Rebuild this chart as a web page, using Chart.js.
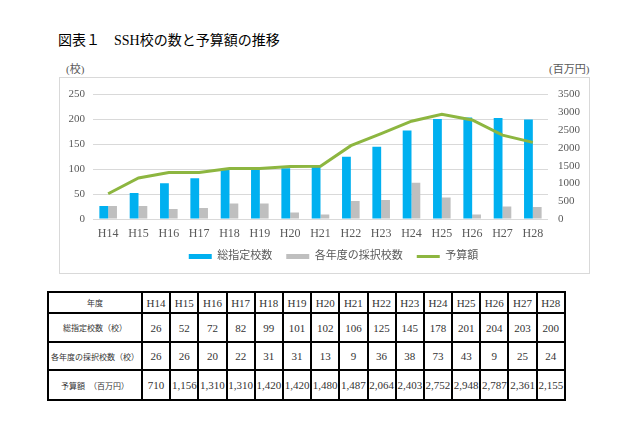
<!DOCTYPE html>
<html><head><meta charset="utf-8">
<script src="https://cdn.jsdelivr.net/npm/chart.js"></script>
<style>
body{margin:0;background:#fff;width:640px;height:426px;position:relative;overflow:hidden;font-family:"Liberation Serif","Noto Sans CJK JP",serif;}
#title{position:absolute;left:58px;top:31px;font-size:14px;color:#000;white-space:nowrap;line-height:20px;}
#frame{position:absolute;left:59px;top:77px;width:531px;height:197px;border:1px solid #D9D9D9;box-sizing:border-box;}
#wrap{position:absolute;left:0;top:0;width:529px;height:199px;}
.unit{position:absolute;top:62px;font-size:11px;color:#595959;line-height:14px;white-space:nowrap;}
table{position:absolute;left:47px;top:291px;width:519px;height:108px;border-collapse:collapse;table-layout:fixed;}
td{border:2px solid #000;text-align:center;font-size:11px;color:#333;padding:0;white-space:nowrap;overflow:hidden;}
td.h{font-size:8px;}
</style></head>
<body>
<div id="title">図表１　SSH校の数と予算額の推移</div>
<div class="unit" style="left:66px;">(校)</div>
<div class="unit" style="left:549px;">(百万円)</div>
<div id="frame"><div id="wrap"><canvas id="c" width="529" height="199"></canvas></div></div>
<table id="tbl"></table>
<script>
const years = ["H14","H15","H16","H17","H18","H19","H20","H21","H22","H23","H24","H25","H26","H27","H28"];
const totalSchools = [26,52,72,82,99,101,102,106,125,145,178,201,204,203,200];
const newSchools = [26,26,20,22,31,31,13,9,36,38,73,43,9,25,24];
const budget = [710,1156,1310,1310,1420,1420,1480,1487,2064,2403,2752,2948,2787,2361,2155];
const seriesNames = ["総指定校数","各年度の採択校数","予算額"];
const rowHeads = ["年度","総指定校数（校）","各年度の採択校数（校）","予算額　（百万円）"];

// table
const tbl = document.getElementById('tbl');
const cg = document.createElement('colgroup');
const c0 = document.createElement('col'); c0.style.width = '94px'; cg.appendChild(c0);
years.forEach(()=>{const c=document.createElement('col'); cg.appendChild(c);});
tbl.appendChild(cg);
const rows = [years, totalSchools.map(String), newSchools.map(String), budget.map(v=>v.toLocaleString('en-US'))];
const rh = [21,29,28,30];
rows.forEach((r,i)=>{
  const tr = document.createElement('tr'); tr.style.height = rh[i]+'px';
  const th = document.createElement('td'); th.className='h'; th.textContent = rowHeads[i]; tr.appendChild(th);
  r.forEach(v=>{const td=document.createElement('td'); td.textContent=v; tr.appendChild(td);});
  tbl.appendChild(tr);
});

const FF = '"Liberation Serif","Noto Sans CJK JP",serif';
const TC = '#595959';
const legendShift = {
  id:'legendShift',
  afterLayout(chart){ const l = chart.legend; if(l){ l.left += 9; l.right += 9; l.top -= 5; l.bottom -= 5; } }
};
new Chart(document.getElementById('c'), {
  data: {
    labels: years,
    datasets: [
      {type:'bar', label:seriesNames[0], data: totalSchools, backgroundColor:'#00B0F0', yAxisID:'y', order:1, pointStyle:'rect', barPercentage:1, categoryPercentage:0.58, borderWidth:0},
      {type:'bar', label:seriesNames[1], data: newSchools, backgroundColor:'#BFBFBF', yAxisID:'y', order:1, pointStyle:'rect', barPercentage:1, categoryPercentage:0.58, borderWidth:0},
      {type:'line', label:seriesNames[2], data: budget, borderColor:'#8DB640', backgroundColor:'#8DB640', borderWidth:3, pointRadius:0, pointHoverRadius:0, yAxisID:'y1', order:0, pointStyle:'line', tension:0}
    ]
  },
  plugins:[legendShift],
  options: {
    responsive:false, animation:false,
    layout:{padding:{top:13,left:0,right:0,bottom:0}},
    plugins:{
      legend:{position:'bottom', labels:{usePointStyle:true, pointStyleWidth:23, boxHeight:5, font:{size:11, family:FF}, color:TC, padding:14, sort:(a,b)=>a.datasetIndex-b.datasetIndex}},
      tooltip:{enabled:false}
    },
    scales:{
      x:{grid:{display:false, drawTicks:false}, border:{display:false}, ticks:{font:{size:12, family:FF}, color:TC, padding:8, maxRotation:0, autoSkip:false}, afterFit(s){s.height=23;}},
      y:{position:'left', min:0, max:250, ticks:{stepSize:50, font:{size:11, family:FF}, color:TC, padding:8}, grid:{color:'#D9D9D9', drawTicks:false}, border:{display:false}, afterFit(s){s.width=33;}},
      y1:{position:'right', min:0, max:3500, ticks:{stepSize:500, font:{size:11, family:FF}, color:TC, padding:10, callback:(v)=>String(v)}, grid:{display:false, drawTicks:false}, border:{display:false}, afterFit(s){s.width=41;}}
    }
  }
});
</script>
</body></html>
